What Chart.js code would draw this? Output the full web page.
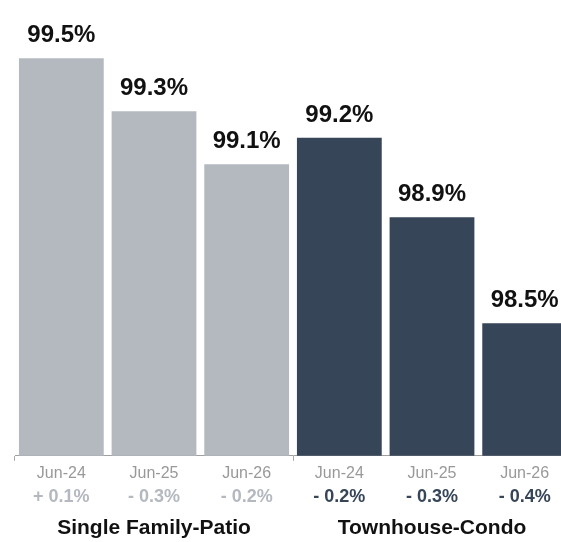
<!DOCTYPE html>
<html>
<head>
<meta charset="utf-8">
<script src="https://cdn.jsdelivr.net/npm/chart.js@4"></script>
<style>
  html, body { margin: 0; padding: 0; background: #fff; overflow: hidden; }
  #wrap { width: 561px; height: 542px; overflow: hidden; }
</style>
</head>
<body>
<div id="wrap"><canvas id="chart" width="585" height="542"></canvas></div>
<script>
const months = ["Jun-24", "Jun-25", "Jun-26", "Jun-24", "Jun-25", "Jun-26"];
const changes = ["+ 0.1%", "- 0.3%", "- 0.2%", "- 0.2%", "- 0.3%", "- 0.4%"];
const groups = ["Single Family-Patio", "Townhouse-Condo"];
const groupOf = [0, 0, 0, 1, 1, 1];
const values = [99.5, 99.3, 99.1, 99.2, 98.9, 98.5];

const GRAY = "#b4b8bf";
const NAVY = "#364557";
const groupColors = [GRAY, NAVY];
const FONT = "'Liberation Sans', Arial, Helvetica, sans-serif";

// percent labels above each bar
const valueLabels = {
  id: "valueLabels",
  afterDatasetsDraw(chart) {
    let ctx = chart.ctx;
    let meta = chart.getDatasetMeta(0);
    ctx.save();
    ctx.font = "bold 24px " + FONT;
    ctx.fillStyle = "#111";
    ctx.textAlign = "center";
    ctx.textBaseline = "alphabetic";
    meta.data.forEach((bar, i) => {
      ctx.fillText(values[i].toFixed(1) + "%", bar.x, bar.y - 16);
    });
    ctx.restore();
  },
};

// second and third label rows under the x axis: yearly change, then group name
const lowerRows = {
  id: "lowerRows",
  afterDraw(chart) {
    let ctx = chart.ctx;
    let x = chart.scales.x;
    let axisY = x.top;
    ctx.save();
    ctx.textAlign = "center";
    ctx.textBaseline = "middle";

    ctx.font = "bold 18px " + FONT;
    changes.forEach((c, i) => {
      ctx.fillStyle = groupColors[groupOf[i]];
      ctx.fillText(c, x.getPixelForTick(i), axisY + 41);
    });

    ctx.font = "bold 21px " + FONT;
    ctx.fillStyle = "#111";
    groups.forEach((g, gi) => {
      let idx = groupOf.map((v, i) => (v === gi ? i : -1)).filter((i) => i >= 0);
      let cx = idx.reduce((s, i) => s + x.getPixelForTick(i), 0) / idx.length;
      ctx.fillText(g, cx, axisY + 72);
    });
    ctx.restore();
  },
};

let ctx_chart = document.getElementById("chart").getContext("2d");
let chart = new Chart(ctx_chart, {
  type: "bar",
  data: {
    labels: months,
    datasets: [
      {
        data: values,
        backgroundColor: groupOf.map((g) => groupColors[g]),
        categoryPercentage: 1,
        barPercentage: 0.915,
      },
    ],
  },
  options: {
    responsive: false,
    animation: false,
    layout: { padding: { left: 15, right: 14, top: 0, bottom: 56 } },
    plugins: { legend: { display: false }, tooltip: { enabled: false } },
    scales: {
      y: { display: false, min: 98, max: 99.72 },
      x: {
        grid: {
          drawOnChartArea: false,
          drawTicks: true,
          tickLength: 5,
          color: (c) => (c.index === 0 || c.index === 3 ? "#a8a8a8" : "rgba(0,0,0,0)"),
        },
        border: { display: true, color: "#a0a0a0" },
        ticks: {
          color: "#999",
          font: { family: FONT, size: 16 },
          padding: 3,
          autoSkip: false,
          maxRotation: 0,
        },
      },
    },
  },
  plugins: [valueLabels, lowerRows],
});
</script>
</body>
</html>
